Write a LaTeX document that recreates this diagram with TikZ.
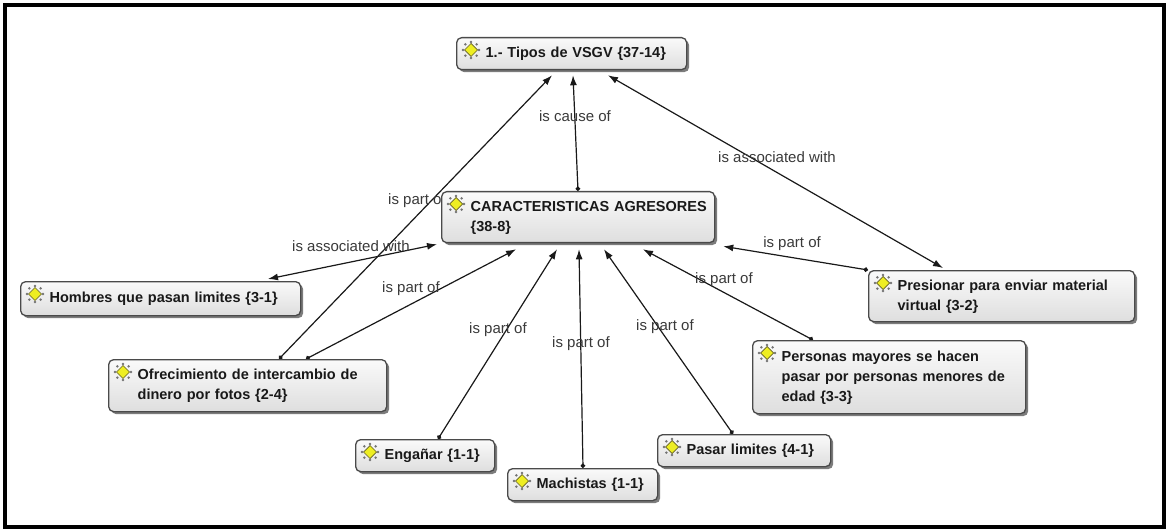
\documentclass[tikz,border=0pt]{standalone}
\usepackage{fontspec}
\setmainfont{Liberation Sans}
\usetikzlibrary{arrows.meta,shadows,calc}
\pgfdeclarelayer{bg}
\pgfdeclarelayer{edges}
\pgfsetlayers{bg,edges,main}
\newcommand\ctext[1]{\hspace*{25pt}\begin{tabular}[c]{@{}l@{}}#1\end{tabular}}
\definecolor{boxline}{HTML}{4A4A4A}
\definecolor{boxtop}{HTML}{FAFAFA}
\definecolor{boxbot}{HTML}{DEDEDE}
\definecolor{lbltext}{HTML}{3A3A3A}
\definecolor{icoyel}{HTML}{EEEE22}
\tikzset{
  concept/.style={rectangle, rounded corners=5pt, draw=boxline, line width=1.3pt,
    top color=boxtop, bottom color=boxbot,
    drop shadow={shadow xshift=2.5pt, shadow yshift=-2.5pt, fill=black!60, opacity=0.85},
    anchor=north west, inner xsep=4pt, inner ysep=0pt,
    font=\fontsize{14.5}{20}\selectfont\bfseries, text=black!90, align=left},
  rel/.style={draw=black!90, line width=1.2pt, {Circle[length=4.5pt]}-{Latex[length=10pt,width=7pt]}},
  birel/.style={draw=black!90, line width=1.2pt, {Latex[length=10pt,width=7pt]}-{Latex[length=10pt,width=7pt]}},
  lbl/.style={font=\fontsize{15}{17}\selectfont, text=lbltext, inner sep=1pt},
  ico/.pic={
    \foreach \a in {0,45,...,315} \fill[black!55] (\a:8pt) circle (1.4pt);
    \draw[fill=icoyel, draw=olive!60!black, line width=0.7pt] (0,6.5pt)--(6.5pt,0)--(0,-6.5pt)--(-6.5pt,0)--cycle;
  }
}
\begin{document}
\begin{tikzpicture}[x=1pt,y=-1pt]
\useasboundingbox (0,0) rectangle (1166,529);
\begin{pgfonlayer}{bg}
\fill[white] (0,0) rectangle (1166,529);
\end{pgfonlayer}
\draw[line width=4pt] (5,5) rectangle (1163.5,527);

% concepts
\path (456,37) node[concept, text width=222pt, minimum height=32pt] (tipos) {\ctext{1.- Tipos de VSGV \{37-14\}}};
\path (441,191) node[concept, text width=265pt, minimum height=51pt] (ca) {\ctext{CARACTERISTICAS AGRESORES\\\{38-8\}}};
\path (20,281) node[concept, text width=272pt, minimum height=34pt] (hom) {\ctext{Hombres que pasan limites \{3-1\}}};
\path (108,359) node[concept, text width=270pt, minimum height=52pt] (ofr) {\ctext{Ofrecimiento de intercambio de\\dinero por fotos \{2-4\}}};
\path (868,270) node[concept, text width=258pt, minimum height=51pt] (pre) {\ctext{Presionar para enviar material\\virtual \{3-2\}}};
\path (752,340) node[concept, text width=265pt, minimum height=73pt] (per) {\ctext{Personas mayores se hacen\\pasar por personas menores de\\edad \{3-3\}}};
\path (355,439) node[concept, text width=131pt, minimum height=32pt] (eng) {\ctext{Engañar \{1-1\}}};
\path (507,468) node[concept, text width=142pt, minimum height=32pt] (mac) {\ctext{Machistas \{1-1\}}};
\path (657,434) node[concept, text width=165pt, minimum height=32pt] (pas) {\ctext{Pasar limites \{4-1\}}};

% icons
\foreach \n in {tipos,ca,hom,ofr,pre,per,eng,mac,pas}
  \pic at ($(\n.north west)+(15,13)$) {ico};

% connectors and their labels, behind the boxes
\begin{pgfonlayer}{edges}
\draw[rel] ($(ca.north west)+(137,0)$) -- ($(tipos.south west)+(117,5)$);
\draw[rel] ($(ofr.north west)+(171,0)$) -- ($(tipos.south west)+(96,5)$);
\draw[rel] ($(ofr.north west)+(198,0)$) -- ($(ca.south west)+(75,6)$);
\draw[birel] ($(hom.north west)+(248,-2)$) -- ($(ca.south west)+(-4,1)$);
\draw[birel] ($(tipos.south west)+(152,5)$) -- ($(pre.north west)+(75,-2)$);
\draw[rel] (pre.north west) -- ($(ca.south east)+(8,3)$);
\draw[rel] ($(per.north west)+(61,0)$) -- ($(ca.south west)+(202,6)$);
\draw[rel] ($(pas.north west)+(76,0)$) -- ($(ca.south west)+(163,6)$);
\draw[rel] ($(mac.north west)+(76,0)$) -- ($(ca.south west)+(138,6)$);
\draw[rel] ($(eng.north west)+(83,0)$) -- ($(ca.south west)+(116,6)$);

\node[lbl] (l1) at (575,116) {is cause of};
\node[lbl] (l2) at (417,201) {is part of};
\node[lbl] (l3) at (411,289) {is part of};
\node[lbl] (l4) at (351,246) {is associated with};
\node[lbl] (l5) at (777,157) {is associated with};
\node[lbl] (l6) at (792,244) {is part of};
\node[lbl] (l7) at (724,280) {is part of};
\node[lbl] (l8) at (665,327) {is part of};
\node[lbl] (l9) at (581,344) {is part of};
\node[lbl] (l10) at (498,330) {is part of};
\end{pgfonlayer}
\end{tikzpicture}
\end{document}
